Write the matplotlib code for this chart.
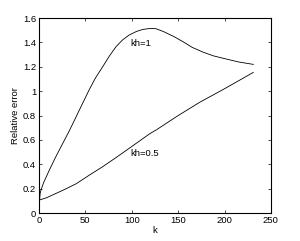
import matplotlib
matplotlib.use("Agg")
import matplotlib.pyplot as plt

plt.rcParams['font.family'] = ['Liberation Sans', 'DejaVu Sans']
plt.rcParams['font.size'] = 6.8

# kh=1 curve
k1 = [0.3, 0.6, 1.2, 2.2, 5, 11, 18, 25.5, 33, 40, 47, 54, 61, 68.6, 76, 83, 90, 97, 105,
      112, 120, 126, 134, 145, 155.5, 165, 177, 188, 198.6, 215, 231]
e1 = [0.43, 0.1, 0.16, 0.19, 0.25, 0.35, 0.46, 0.57, 0.68, 0.79, 0.9, 1.01, 1.11, 1.2, 1.29,
      1.365, 1.42, 1.46, 1.49, 1.507, 1.515, 1.513, 1.49, 1.45, 1.405, 1.36, 1.32, 1.29, 1.27, 1.24, 1.22]

# kh=0.5 curve
k2 = [0.4, 8, 18, 28, 40, 54, 68.6, 83, 97, 120, 126, 150, 173.5, 200, 231]
e2 = [0.107, 0.125, 0.16, 0.195, 0.24, 0.31, 0.38, 0.455, 0.53, 0.654, 0.68, 0.8, 0.91, 1.02, 1.154]

fig = plt.figure(figsize=(3.0, 2.41), dpi=100)
ax = fig.add_axes([0.13, 0.116, 0.773, 0.809])

ax.plot(k1, e1, color='black', lw=0.6)
ax.plot(k2, e2, color='black', lw=0.6)

ax.text(99, 1.395, "kh=1", va='center')
ax.text(99, 0.49, "kh=0.5", va='center')

ax.set_xlim(0, 250)
ax.set_ylim(0, 1.6)
ax.set_xticks([0, 50, 100, 150, 200, 250])
ax.set_yticks([0, 0.2, 0.4, 0.6, 0.8, 1, 1.2, 1.4, 1.6])
ax.set_yticklabels(["0", "0.2", "0.4", "0.6", "0.8", "1", "1.2", "1.4", "1.6"])
ax.tick_params(direction='in', top=True, right=True, length=2.5, width=0.5, pad=2)
for s in ax.spines.values():
    s.set_linewidth(0.8)

ax.set_xlabel("k", labelpad=1)
ax.set_ylabel("Relative error", labelpad=2)

fig.savefig("out.png", dpi=100)
